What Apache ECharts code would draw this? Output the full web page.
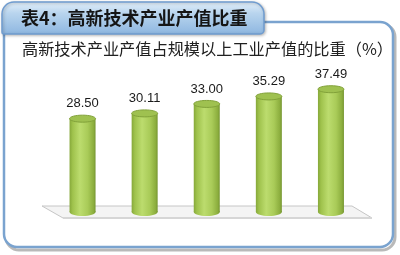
<!DOCTYPE html>
<html>
<head>
<meta charset="utf-8">
<script src="https://cdn.jsdelivr.net/npm/echarts@6/dist/echarts.min.js"></script>
<style>
html,body{margin:0;padding:0;background:#fff;}
#c{width:400px;height:255px;}
</style>
</head>
<body>
<div id="c"></div>
<script>
var categories = ['2008年', '2009年', '2010年', '2011年', '2012年'];
var values = [28.50, 30.11, 33.00, 35.29, 37.49];
var titleText = '表4：高新技术产业产值比重';
var subtitleText = '高新技术产业产值占规模以上工业产值的比重（%）';

var chart = echarts.init(document.getElementById('c'), null, {renderer: 'canvas'});

var bodyGrad = new echarts.graphic.LinearGradient(0, 0, 1, 0, [
  {offset: 0, color: '#86a83a'},
  {offset: 0.12, color: '#9fc24c'},
  {offset: 0.4, color: '#bcdc6e'},
  {offset: 0.7, color: '#a9cb58'},
  {offset: 0.92, color: '#8cae3e'},
  {offset: 1, color: '#769632'}
]);

function renderCyl(params, api) {
  var idx = api.value(0);
  var val = api.value(1);
  var top = api.coord([idx, val]);
  var base = api.coord([idx, 0]);
  var cx = top[0];
  var rx = 13, ry = 3.5;
  return {
    type: 'group',
    children: [
      {type: 'ellipse', shape: {cx: cx, cy: base[1], rx: rx, ry: ry + 0.5},
        style: {fill: bodyGrad}},
      {type: 'rect', shape: {x: cx - rx, y: top[1], width: rx * 2, height: base[1] - top[1]},
        style: {fill: bodyGrad}},
      {type: 'ellipse', shape: {cx: cx, cy: top[1], rx: rx, ry: ry},
        style: {fill: '#9fc150', stroke: '#82a23a', lineWidth: 1}},
      {type: 'text', x: cx, y: top[1] - 15,
        style: {text: val.toFixed(2), fill: '#1a1a1a', font: '13px "Liberation Sans", Arial, sans-serif',
          align: 'center', verticalAlign: 'middle'}}
    ]
  };
}

var option = {
  animation: false,
  backgroundColor: '#ffffff',
  graphic: [
    {type: 'rect', z: 0, shape: {x: 6, y: 24, width: 389, height: 226, r: 13},
      style: {fill: 'none', stroke: '#b9b9b9', lineWidth: 3}},
    {type: 'rect', z: 1, shape: {x: 4, y: 22, width: 389, height: 225, r: 13},
      style: {fill: '#ffffff', stroke: '#7aa3cf', lineWidth: 2.5}},
    {type: 'rect', z: 2, shape: {x: 2, y: 2, width: 262, height: 32, r: [12, 12, 4, 2]},
      style: {
        fill: new echarts.graphic.LinearGradient(0, 0, 0, 1, [
          {offset: 0, color: '#e6f1fb'},
          {offset: 0.35, color: '#b9d5ee'},
          {offset: 1, color: '#8db6e0'}
        ]),
        stroke: '#6f9cd0', lineWidth: 1.5,
        shadowBlur: 3, shadowColor: 'rgba(0,0,0,0.25)', shadowOffsetX: 1, shadowOffsetY: 1
      }},
    {type: 'text', z: 3, left: 21, top: 9,
      style: {text: titleText, fill: '#151515', font: 'bold 18px "Noto Sans CJK SC", sans-serif'}},
    {type: 'text', z: 3, left: 22, top: 41,
      style: {text: subtitleText, fill: '#202020', font: '16.2px "Noto Sans CJK SC", sans-serif'}},
    {type: 'polygon', z: 3, shape: {points: [[42, 206], [352, 206], [372, 218], [63, 218]]},
      style: {fill: '#f4f4f4', stroke: '#c6c6c6', lineWidth: 1}},
    {type: 'line', z: 3, shape: {x1: 63, y1: 218, x2: 372, y2: 218},
      style: {stroke: '#d6d6d6', lineWidth: 2}}
  ],
  grid: {left: 51.5, right: 38, top: 81, bottom: 43},
  xAxis: {
    type: 'category',
    data: categories,
    axisLine: {show: false},
    axisTick: {show: false},
    axisLabel: {margin: 14, color: '#1e1e1e', fontSize: 16, fontFamily: '"Noto Sans CJK SC", sans-serif'}
  },
  yAxis: {
    type: 'value', min: 0, max: 40, show: false, splitLine: {show: false}
  },
  series: [{
    type: 'custom',
    z: 10,
    renderItem: renderCyl,
    data: values.map(function (v, i) { return [i, v]; })
  }]
};
chart.setOption(option);
</script>
</body>
</html>
